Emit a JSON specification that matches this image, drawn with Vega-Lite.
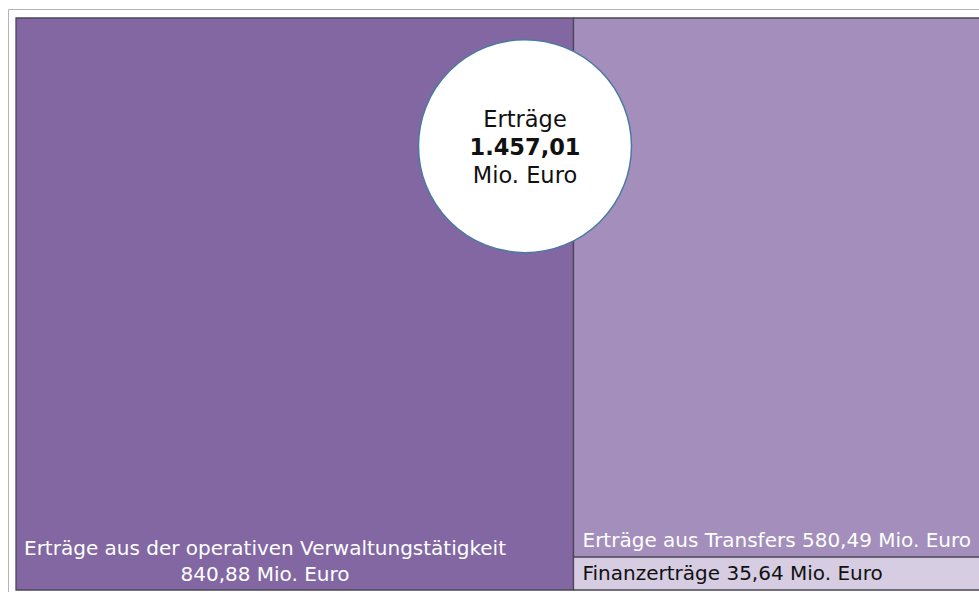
{
  "$schema": "https://vega.github.io/schema/vega-lite/v6.json",
  "width": 971,
  "height": 583,
  "autosize": {"type": "none"},
  "padding": {"left": 8, "top": 9, "right": 0, "bottom": 0},
  "background": "white",
  "config": {
    "view": {"stroke": "#b4b4b4", "strokeWidth": 1},
    "font": "DejaVu Sans",
    "locale": {"number": {"decimal": ",", "thousands": ".", "grouping": [3], "currency": ["", " €"]}}
  },
  "layer": [
    {
      "data": {
        "values": [
          {"name": "Erträge aus der operativen Verwaltungstätigkeit", "value": 840.88, "col": 1, "order": 1},
          {"name": "Finanzerträge", "value": 35.64, "col": 2, "order": 1},
          {"name": "Erträge aus Transfers", "value": 580.49, "col": 2, "order": 2}
        ]
      },
      "transform": [
        {"window": [{"op": "sum", "field": "value", "as": "cumEnd"}], "sort": [{"field": "col"}, {"field": "order"}], "frame": [null, 0]},
        {"joinaggregate": [{"op": "max", "field": "cumEnd", "as": "xEnd"}, {"op": "sum", "field": "value", "as": "colTotal"}], "groupby": ["col"]},
        {"calculate": "datum.xEnd - datum.colTotal", "as": "xStart"},
        {"stack": "value", "groupby": ["col"], "sort": [{"field": "order", "order": "ascending"}], "offset": "normalize", "as": ["y0", "y1"]},
        {"calculate": "datum.name + ' ' + format(datum.value, ',.2f') + ' Mio. Euro'", "as": "label"},
        {"calculate": "datum.name + '|' + format(datum.value, ',.2f') + ' Mio. Euro'", "as": "label2"}
      ],
      "layer": [
        {
          "mark": {"type": "rect", "clip": true, "stroke": "#4b4757", "strokeWidth": 1.3},
          "encoding": {
            "x": {"field": "xStart", "type": "quantitative", "axis": null, "scale": {"nice": false, "zero": true, "range": [8, 974]}},
            "x2": {"field": "xEnd"},
            "y": {"field": "y0", "type": "quantitative", "axis": null, "scale": {"nice": false, "domain": [0, 1], "range": [581, 9]}},
            "y2": {"field": "y1"},
            "fill": {
              "field": "name", "type": "nominal", "legend": null,
              "scale": {
                "domain": ["Erträge aus der operativen Verwaltungstätigkeit", "Erträge aus Transfers", "Finanzerträge"],
                "range": ["#8267A3", "#A38EBC", "#D6CDE3"]
              }
            }
          }
        },
        {
          "transform": [{"filter": "datum.col == 1"}],
          "mark": {"type": "text", "align": "center", "baseline": "alphabetic", "dx": 249, "dy": -35, "fontSize": 20, "lineHeight": 26, "lineBreak": "|", "fill": "#ffffff"},
          "encoding": {
            "x": {"field": "xStart", "type": "quantitative"},
            "y": {"field": "y0", "type": "quantitative"},
            "text": {"field": "label2", "type": "nominal"}
          }
        },
        {
          "transform": [{"filter": "datum.col == 2"}],
          "mark": {"type": "text", "align": "left", "baseline": "alphabetic", "dx": 9, "dy": -10, "fontSize": 20},
          "encoding": {
            "x": {"field": "xStart", "type": "quantitative"},
            "y": {"field": "y0", "type": "quantitative"},
            "text": {"field": "label", "type": "nominal"},
            "color": {"condition": {"test": "datum.name === 'Finanzerträge'", "value": "#111111"}, "value": "#ffffff"}
          }
        }
      ]
    },
    {
      "data": {"values": [{"label": "Erträge", "total": 1457.01}]},
      "layer": [
        {
          "mark": {"type": "point", "shape": "circle", "filled": true, "fill": "#ffffff", "stroke": "#4a7aa3", "strokeWidth": 1.5, "opacity": 1, "size": 45369},
          "encoding": {"x": {"datum": 767.7, "type": "quantitative"}, "y": {"datum": 0.776, "type": "quantitative"}}
        },
        {
          "mark": {"type": "text", "align": "center", "baseline": "alphabetic", "dy": -19, "fontSize": 22.5, "fill": "#111111"},
          "encoding": {"x": {"datum": 767.7, "type": "quantitative"}, "y": {"datum": 0.776, "type": "quantitative"}, "text": {"field": "label", "type": "nominal"}}
        },
        {
          "mark": {"type": "text", "align": "center", "baseline": "alphabetic", "dy": 9, "fontSize": 22.5, "fontWeight": "bold", "fill": "#111111"},
          "encoding": {"x": {"datum": 767.7, "type": "quantitative"}, "y": {"datum": 0.776, "type": "quantitative"}, "text": {"field": "total", "type": "quantitative", "format": ",.2f"}}
        },
        {
          "mark": {"type": "text", "align": "center", "baseline": "alphabetic", "dy": 37, "fontSize": 22.5, "fill": "#111111"},
          "encoding": {"x": {"datum": 767.7, "type": "quantitative"}, "y": {"datum": 0.776, "type": "quantitative"}, "text": {"value": "Mio. Euro"}}
        }
      ]
    }
  ]
}
